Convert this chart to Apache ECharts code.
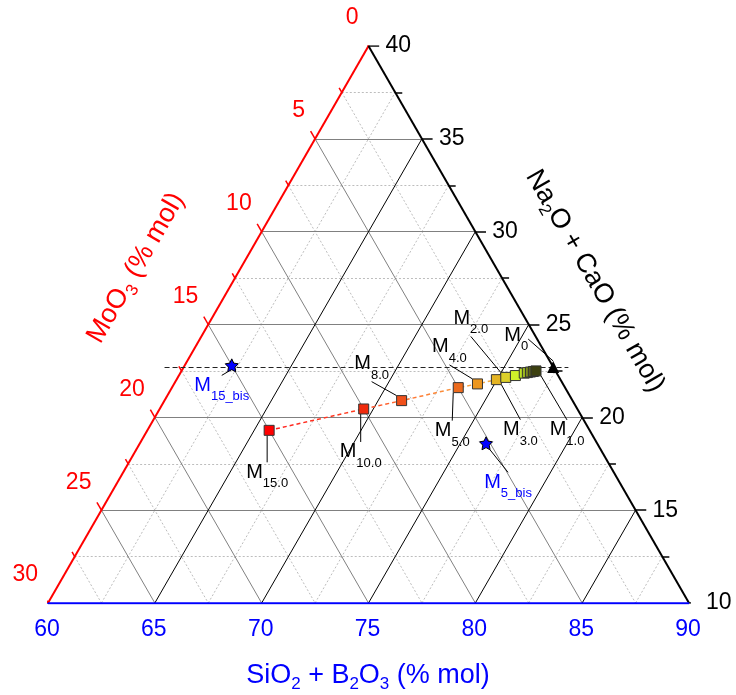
<!DOCTYPE html>
<html><head><meta charset="utf-8">
<script src="https://cdn.jsdelivr.net/npm/echarts@6/dist/echarts.min.js"></script>
<style>html,body{margin:0;padding:0;background:#fff}#c{width:736px;height:695px}</style>
</head><body><div id="c"></div>
<script>
// ---------- DATA (ternary compositions, % mol) ----------
const siTicks = [60, 65, 70, 75, 80, 85, 90];      // SiO2 + B2O3
const moTicks = [0, 5, 10, 15, 20, 25, 30];        // MoO3
const naTicks = [10, 15, 20, 25, 30, 35, 40];      // Na2O + CaO
const siMinor = [62.5, 67.5, 72.5, 77.5, 82.5, 87.5];
const moMinor = [2.5, 7.5, 12.5, 17.5, 22.5, 27.5];
const naMinor = [12.5, 17.5, 22.5, 27.5, 32.5, 37.5];

const sampleLabels = ['M15.0', 'M10.0', 'M8.0', 'M5.0', 'M4.0', 'M3.0', 'M2.0', '', '', '', '', '', 'M1.0'];
const sampleSiO2   = [65.70, 69.55, 71.10, 73.40, 74.20, 74.97, 75.35, 75.75, 76.10, 76.23, 76.36, 76.48, 76.59];
const sampleMoO3   = [15.00, 10.00, 8.00, 5.00, 4.00, 3.00, 2.50, 2.00, 1.52, 1.36, 1.20, 1.05, 0.91];
const sampleNa2OCaO= [19.30, 20.45, 20.90, 21.60, 21.80, 22.03, 22.15, 22.25, 22.38, 22.41, 22.44, 22.47, 22.50];

const m0Label = ['M0'];
const m0SiO2 = [77.29];
const m0MoO3 = [0];
const m0Na2OCaO = [22.71];

const bisLabels = ['M15_bis', 'M5_bis'];
const bisSiO2 = [62.2, 76.2];
const bisMoO3 = [15.0, 5.2];
const bisNa2OCaO = [22.8, 18.6];

const refLineSiO2 = [59.1, 78.0];
const refLineMoO3 = [18.19, -0.71];
const refLineNa2OCaO = [22.71, 22.71];

// ---------- STYLE ----------
const FF = '"Liberation Sans", Arial, Helvetica, sans-serif';
const sampleColors = ['#ff0000', '#f02a0c', '#f0501a', '#ec6a1c', '#ec961e', '#e4b422', '#dccf2a',
  '#d0f02a', '#bce024', '#9cb820', '#7c8c1c', '#5c6418', '#3c4010'];
const sampleLabelOffsets = [[-2, 42], [-3, 43], [-30, -37], [-6, 43], [-28, -37], [24, 50], [-35, -59],
  null, null, null, null, null, [31, 59]];
const m0LabelOffset = [-37, -32];
const bisLabelOffsets = [[-10, 20], [22, 39]];

// ternary -> cartesian (unit triangle inside the value axes)
function tern(si, mo, na) {
  const t = si + mo + na;
  const fa = (si / t * 100 - 60) / 30, fc = (na / t * 100 - 10) / 30;
  return [fa + fc / 2, fc];
}
function seg(a, b) { return { coords: [tern(a[0], a[1], a[2]), tern(b[0], b[1], b[2])] }; }
const naLine = v => seg([60, 40 - v, v], [100 - v, 0, v]);
const moLine = v => seg([60, v, 40 - v], [90 - v, v, 10]);
const siLine = v => seg([v, 90 - v, 10], [v, 0, 100 - v]);
const moTick = (v, d) => seg([60, v, 40 - v], [60 - d, v, 40 - v + d]);
const naTick = (v, d) => seg([100 - v, 0, v], [100 - v + d, -d, v]);
const siTick = (v, d) => seg([v, 90 - v, 10], [v, 90 - v + d, 10 - d]);

const inner = (arr, lo, hi) => arr.filter(v => v > lo && v < hi);

function linesSeries(data, color, width, type, z) {
  return { type: 'lines', coordinateSystem: 'cartesian2d', polyline: false, silent: true, z: z,
    data: data, lineStyle: { color: color, width: width, type: type, opacity: 1 }, symbol: 'none' };
}

const richM = (color) => ({
  m: { fontSize: 20, fontFamily: FF, color: color, lineHeight: 36, verticalAlign: 'middle' },
  s: { fontSize: 13, fontFamily: FF, color: color, lineHeight: 13, verticalAlign: 'bottom' }
});
const fmtM = p => p.name ? '{m|M}{s|' + p.name.slice(1) + '}' : '';

function tickLabelSeries(vals, posFn, color, align, offset) {
  return { type: 'scatter', silent: true, symbolSize: 1, z: 5,
    itemStyle: { color: 'rgba(0,0,0,0)', opacity: 1 },
    data: vals.map(v => ({ name: String(v), value: posFn(v) })),
    label: { show: true, position: 'inside', formatter: '{b}', color: color, fontSize: 23,
      fontFamily: FF, align: align, verticalAlign: 'middle', offset: offset } };
}

const samplePts = sampleSiO2.map((s, i) => {
  const it = { name: sampleLabels[i], value: tern(s, sampleMoO3[i], sampleNa2OCaO[i]),
    itemStyle: { color: sampleColors[i] } };
  if (!sampleLabels[i]) { it.label = { show: false }; it.labelLine = { show: false }; }
  return it;
});

const titleRich = (color) => ({
  t: { fontSize: 27, fontFamily: FF, fill: color, lineHeight: 34 },
  ts: { fontSize: 17, fontFamily: FF, fill: color, lineHeight: 17, verticalAlign: 'bottom' }
});

const option = {
  animation: false,
  backgroundColor: '#fff',
  grid: { left: 48, top: 46, width: 641, height: 557, containLabel: false },
  xAxis: { type: 'value', min: 0, max: 1, show: false },
  yAxis: { type: 'value', min: 0, max: 1, show: false },
  series: [
    // minor grid
    linesSeries([].concat(naMinor.map(naLine), moMinor.map(moLine), siMinor.map(siLine)), '#bdbdbd', 1, [2, 2], 1),
    // major grid
    linesSeries(inner(naTicks, 10, 40).map(naLine), '#808080', 1, 'solid', 2),
    linesSeries(inner(moTicks, 0, 30).map(moLine), '#808080', 1, 'solid', 2),
    linesSeries(inner(siTicks, 60, 90).map(siLine), '#000', 1, 'solid', 2),
    // ticks
    linesSeries(moTicks.map(v => moTick(v, 0.42)).concat(moMinor.map(v => moTick(v, 0.25))), '#ff0000', 1.5, 'solid', 3),
    linesSeries(naTicks.map(v => naTick(v, 0.5)).concat(naMinor.map(v => naTick(v, 0.33))), '#000', 1.5, 'solid', 3),
    linesSeries(siTicks.map(v => siTick(v, 0.42)).concat(siMinor.map(v => siTick(v, 0.25))), '#0000ff', 1.5, 'solid', 3),
    // triangle edges
    linesSeries([seg([60, 30, 10], [60, 0, 40])], '#ff0000', 2, 'solid', 4),
    linesSeries([seg([90, 0, 10], [60, 0, 40])], '#000', 2, 'solid', 4),
    linesSeries([seg([60, 30, 10], [90, 0, 10])], '#0000ff', 2.5, 'solid', 4),
    // reference dashed line
    linesSeries([seg([refLineSiO2[0], refLineMoO3[0], refLineNa2OCaO[0]], [refLineSiO2[1], refLineMoO3[1], refLineNa2OCaO[1]])], '#222', 1, [5, 3], 5),
    // tick labels
    tickLabelSeries(moTicks, v => tern(60, v, 40 - v), '#ff0000', 'right', [-10, -28]),
    tickLabelSeries(naTicks, v => tern(100 - v, 0, v), '#000000', 'left', [17, 0]),
    tickLabelSeries(siTicks, v => tern(v, 90 - v, 10), '#0000ff', 'center', [-1, 27]),
    // dilution dashed line
    { type: 'line', z: 6, silent: true, symbol: 'none',
      data: sampleSiO2.map((s, i) => tern(s, sampleMoO3[i], sampleNa2OCaO[i])),
      lineStyle: { width: 1.5, type: [4, 3], color: new echarts.graphic.LinearGradient(0, 0, 1, 0, [
        { offset: 0, color: '#ff2020' }, { offset: 0.35, color: '#ff4020' }, { offset: 0.5, color: '#ff7030' },
        { offset: 0.75, color: '#f8a040' }, { offset: 1, color: '#e8c848' }]) } },
    // samples
    { type: 'scatter', z: 8, symbol: 'rect', symbolSize: 10, data: samplePts,
      itemStyle: { borderColor: '#333', borderWidth: 1, opacity: 1 },
      label: { show: true, position: 'inside', formatter: fmtM, rich: richM('#000') },
      labelLayout: p => { const o = sampleLabelOffsets[p.dataIndex]; return o ? { dx: o[0], dy: o[1] } : {}; },
      labelLine: { show: true, lineStyle: { color: '#000', width: 1 } } },
    // M0
    { type: 'scatter', z: 9, symbol: 'triangle', symbolSize: 12,
      data: m0SiO2.map((s, i) => ({ name: m0Label[i], value: tern(s, m0MoO3[i], m0Na2OCaO[i]) })),
      itemStyle: { color: '#000', opacity: 1 },
      label: { show: true, position: 'inside', formatter: fmtM, rich: richM('#000') },
      labelLayout: () => ({ dx: m0LabelOffset[0], dy: m0LabelOffset[1] }),
      labelLine: { show: true, lineStyle: { color: '#000', width: 1 } } },
    // bis stars
    { type: 'scatter', z: 9, symbolSize: 13,
      symbol: 'path://M0,-10 L2.94,-4.05 9.51,-3.09 4.76,1.55 5.88,8.09 0,5 -5.88,8.09 -4.76,1.55 -9.51,-3.09 -2.94,-4.05 Z',
      data: bisSiO2.map((s, i) => ({ name: bisLabels[i], value: tern(s, bisMoO3[i], bisNa2OCaO[i]) })),
      itemStyle: { color: '#0000ff', borderColor: '#000', borderWidth: 1, opacity: 1 },
      label: { show: true, position: 'inside', formatter: fmtM, rich: richM('#0000ff') },
      labelLayout: p => ({ dx: bisLabelOffsets[p.dataIndex][0], dy: bisLabelOffsets[p.dataIndex][1] }),
      labelLine: { show: true, lineStyle: { color: '#000', width: 1 } } }
  ],
  graphic: [
    { type: 'text', x: 368, y: 676, silent: true,
      style: { text: '{t|SiO}{ts|2}{t| + B}{ts|2}{t|O}{ts|3}{t| (% mol)}', align: 'center', verticalAlign: 'middle',
        rich: titleRich('#0000ff') } },
    { type: 'text', x: 136, y: 268, rotation: Math.PI / 3, silent: true,
      style: { text: '{t|MoO}{ts|3}{t| (% mol)}', align: 'center', verticalAlign: 'middle',
        rich: titleRich('#ff0000') } },
    { type: 'text', x: 595, y: 281, rotation: -Math.PI / 3, silent: true,
      style: { text: '{t|Na}{ts|2}{t|O + CaO (% mol)}', align: 'center', verticalAlign: 'middle',
        rich: titleRich('#000000') } }
  ]
};
const chart = echarts.init(document.getElementById('c'), null, { renderer: 'canvas' });
chart.setOption(option);
</script>
</body></html>
